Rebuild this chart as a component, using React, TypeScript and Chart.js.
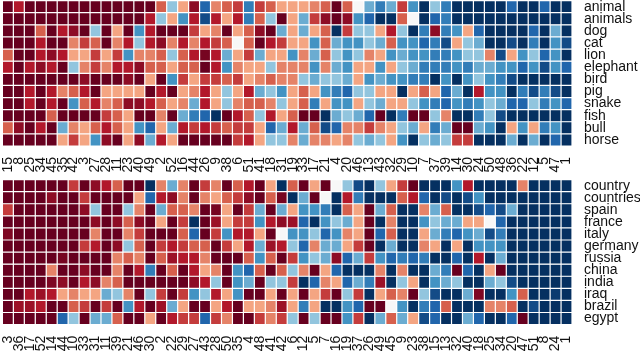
import React, { useEffect, useRef } from "react";
import { Chart, registerables } from "chart.js";

Chart.register(...registerables);

const topColumns = ["15","8","25","34","45","35","42","3","27","28","11","23","40","49","2","52","16","44","26","9","38","6","51","41","18","31","19","33","17","21","4","20","46","13","43","32","29","10","7","37","39","14","30","24","50","48","36","22","12","5","47","1"];
const bottomColumns = ["3","36","17","52","14","44","10","33","31","11","39","21","46","30","2","22","29","27","43","28","50","35","4","48","41","42","6","12","5","7","16","19","37","26","49","45","9","23","38","15","13","32","40","18","25","34","20","47","51","8","24","1"];
const topRowNames = ["animal","animals","dog","cat","lion","elephant","bird","pig","snake","fish","bull","horse"];
const bottomRowNames = ["country","countries","spain","france","italy","germany","russia","china","india","iraq","brazil","egypt"];

// Cell levels on the picture's colour scale: 0 = darkest red, 4 = white, 8 = darkest blue
const animal = [0,1,0,0,0,0,0,0,0,0,0,0,0,0,2,5,3,0.5,7,2.5,2,1.5,6.5,1.5,2,3,3,3,2.5,2,0,2,4,5.5,6.5,5.5,1.5,6,8,5,6.5,8,8,8,8,8,7,8,8,7,8,8];
const animals = [0,0,0,0,0,0,0,0,0,0,0,0,0,1,5,3,6,1,7.5,1,3,1,6.5,2,5,0,3,5.5,1.5,0.5,0,0.5,6,7,8,8,2,4,8,7,6.5,8,8,8,8,8,8,8,8,8,8,8];
const dog = [0,0,0,2,0,1,0.5,0,5,0,3,0,6,1,0,0,0,1.5,3,2.5,0,3,2,0.5,0,5.5,3,5.5,3,2,8,1.5,5,5,3,1,5,8,6.5,0.5,6.5,6,3,7,8,8,8,8,7,8,5.5,8];
const cat = [0,0,0,1,0,0,2.5,1.5,2,0,2.5,1,5,1,0.5,2.5,1,2.5,1,1.5,2,4,2,0,1,1.5,3,3,6,2,5.5,6,6,5,5.5,2,6,6,7,6.5,7.5,3,5,5.5,8,8,7.5,8,6.5,8,6,7.5];
const lion = [2,0,0,1,0.5,1,3,3,1.5,3,1.5,6,2.5,2.5,2,5,2,1,0.2,1,5.5,3,1.5,5.5,3,3,6,2.5,5.5,2,5,6,5,2.5,3,6,5.5,6,6,6.5,6.5,6,5,5,2.5,7.5,3,6,5,7,6,8];
const elephant = [1,0,1,0.5,1,0,5,2.5,1.5,2.5,1,1,0.5,2,2,3,2,2,0,1,6,2.5,3,3,5,2.5,2.5,2.5,6,2.5,5.5,6,3,3,6,3,5,5.5,6.5,6.5,6.5,6,6.5,5.5,5.5,6,6,7,6,7.5,6,7];
const bird = [0,0,0,0,0,0,0,0.5,0,0,0,0.5,0,3,0,6,1.5,3,1.5,1.5,2,1.5,3,2.5,2,2.5,2.5,5,5.5,5,5,5.5,3,6,5.5,6,6,6.5,6.5,8,6,8,6,5,6,6.5,7.5,8,8,8,8,8];
const pig = [0,0,1,0,1,2.5,2,1,0,3,3,3,3,0,1,0,3,2.5,1,3,5,3,1,5.5,5,6,3,2,3,6,6.5,7,5,5,3,3,8,3,2,3,7,5.5,8,1,6,6,8,6.5,7.5,6.5,7.5,8];
const snake = [0,0,1,0,1,0,6,2,1,2.5,2,0.5,0.5,1,2,3,2.5,5.5,1,3,5,2.5,2,2,2.5,5,3,2,6.5,3,6,6,3,5,5.5,3,3,5,6,6.5,7,6,6.5,6,5,5.5,7,7,5,6.5,6,7];
const fish = [0,0,0,0,2,0,0,0,0,1.5,2,3,0,0,2.5,0,5.5,6.5,7,8,0,1,2,5,1,3,2,0,0,8,5.5,5,5.5,7,0,8,6.5,0,0,5,2.5,8,8,6.5,5,7.5,8,8,8,8,8,8];
const bull = [2,0.5,0,1,0,5.5,2.5,3,2,1,2,3,6,7,3,5.5,1,1.5,1,1.5,2,1.5,1.5,3,7,5.5,1,5.5,2,7.5,7,2.5,2.5,1.5,2.5,3,5,5.5,3,6.5,5.5,0,0,5.5,6,8,3,6,3,6.5,6,8];
const horse = [0,0,0,0,0,3,1.5,3,6,0.5,0,3,0.5,5.5,1,3,0,0,0,0,0,1.5,1,3,5,5,2.5,5.5,2.5,2.5,3,2.5,5,5.5,5,3,6,8,5,5.5,5,1.5,1.5,8,8,8,5.5,8,5.5,8,7,8];

const country = [0,0,0,0,0,0,1.5,0,0.5,1,2,0,0,8,2.5,5.5,2.5,0,1.5,2.5,0,2,1,0,3,8,2,0,3,0,4,5,7.5,8,5,3,1.5,0,8,8,8,6,1,8,8,8,8,2.5,8,8,8,8];
const countries = [0,0,0,0,0.5,0,0,1.5,0,0,0,0,3,7,1,0.5,2.5,0,2.5,3,2,1.5,0.5,0,2,0.2,8,5.5,0,4,8,1,6.5,8,8,8,2,1,7,8,7.5,8,7.5,6,8,8,8,8,8,8,8,8];
const spain = [1.5,0,0,0,0,0,0,0.5,5,0,0,5,2.5,0,5.5,2,2,2.5,0,0.2,3,0,1.5,5.5,0,5.5,3,6,6,6.5,8,2,3,0,5.5,2,8,8,2.5,5.5,2,8,8,7.5,7,7.5,5.5,8,8,8,8,8];
const france = [0,0,0,0,0,0,0,0,0.5,0,0.5,2,0.5,0,3,0,1.5,8,0,0.7,3,1.5,1.5,6,1,0.5,0.7,7,8,6,5,5.5,3,0,8,2.5,8,8,6,5,5.5,5.5,3,3,4,7,8,8,8,8,8,8];
const italy = [0.3,0,0,0,0,0,0,0,2.5,0,0,2.5,1.5,0,0,0,2,7,0,1.5,6,1,1,3,0,4,6,6,5,7,6,2.5,3,0,7,2,8,8,3,5.5,6.5,7,6,5.5,7.5,6.5,8,8,8,8,8,8];
const germany = [0,0,0,0,0,0,0,1.5,1,0,0.5,5,2,0,1.5,1,1.5,2,2,0,1.5,3,1,5.5,0.7,1,5,7,2.5,5.5,5.5,3,1.5,0,8,5.5,8,8,2.5,3,8,3,8,6,6,6,8,8,8,8,8,8];
const russia = [0,0,0,0,0,0.2,0,0,0,0,2.5,2,2.5,0,2,0.7,1,1,2.5,0,0,0,2,6,2,0,1.5,6,5,5.5,0.5,7,5.5,1.5,6,7,6.5,7,6.5,8,8,7,8,1,8,5.5,8,8,8,8,8,8];
const china = [0,0,0,0,2.5,0,0,0.5,0,0,2.5,0,1,6.5,0,2,0,1,3,2.5,0,6,7,2,0,2,5,2.5,0,3,7,8,8,8,2.5,8,2.5,8,8,5.5,6.5,0,7,8,3,0,8,8,8,8,8,8];
const india = [0,0,0,0,0.3,0.5,0,1,0.5,2.5,2,0,0,0,0,0,0,0.5,1,5,0,6,5.5,0,5,5,1.5,8,7,2.5,3,7,5.5,6.5,0.7,8,5,3,8,6,5.5,5,8,8,5.5,5,7.5,8,8,8,8,8];
const iraq = [0,0,1,0.7,1,3,2.5,3,3,5.5,5,2.5,0,5,1.5,0,1.5,6,5,1,3,6,0,0,3,0,3,0,3,1.5,0,5,1.5,8,3,2,2.5,0,5,7.5,8,8,5.5,0.3,8,8,6,2,8,8,7.8,8];
const brazil = [0,0.7,0.7,1,0,0,2,1.5,0,1.5,0,6,1,0,0.7,5.5,3,0,0,3,1,0,3,3,2.5,0.7,3,6.5,3,8,8,6,7,0,0,4,6,8,6.5,7,2,8,8,8,2.5,2.5,2,8,7.5,8,8,8];
const egypt = [0,0,0,0,0,7,5,0,5.5,5.5,2,0,0,3,0,1,1.5,1.5,7,1.5,2.5,0,0,1.5,2.5,1.5,5,0,5,0,0,6,1.5,8,5.5,2,5.5,3,7.5,7,8,8,5.5,7,8,8,7,0,8,8,8,8];

const topRows = [animal, animals, dog, cat, lion, elephant, bird, pig, snake, fish, bull, horse];
const bottomRows = [country, countries, spain, france, italy, germany, russia, china, india, iraq, brazil, egypt];

const palette = [[103,0,31],[178,24,43],[214,96,77],[244,165,130],[247,247,247],[146,197,222],[67,147,195],[33,102,172],[5,48,97]];

function levelColor(level: number): string {
  const i = Math.min(Math.floor(level), palette.length - 2);
  const t = level - i;
  const c = palette[i].map((v, k) => Math.round(v + (palette[i + 1][k] - v) * t));
  return `rgb(${c[0]},${c[1]},${c[2]})`;
}

const FONT = "'Liberation Sans', Arial, sans-serif";

function noPadding(s: any) {
  s.paddingLeft = 0;
  s.paddingRight = 0;
  s.paddingTop = 0;
  s.paddingBottom = 0;
}

function Heatmap({ top, height, columns, rowNames, rows, plotTop, plotBottom }: {
  top: number; height: number; columns: string[]; rowNames: string[]; rows: number[][]; plotTop: number; plotBottom: number;
}) {
  const ref = useRef<HTMLCanvasElement>(null);
  useEffect(() => {
    const chart = new Chart(ref.current!, {
      type: "bar",
      data: {
        labels: columns,
        datasets: rows.map((row, i) => ({
          label: rowNames[i],
          data: row.map(() => 1),
          backgroundColor: row.map(levelColor),
          borderColor: "#ffffff",
          borderWidth: 0.6,
          borderSkipped: false,
          inflateAmount: 0,
          barPercentage: 1,
          categoryPercentage: 1,
          stack: "cells",
          yAxisID: "y",
        })),
      },
      options: {
        animation: false,
        responsive: false,
        devicePixelRatio: 1,
        layout: { padding: { left: 2.4, right: 0, top: plotTop, bottom: 0 } },
        plugins: { legend: { display: false }, tooltip: { enabled: false }, title: { display: false } },
        scales: {
          x: {
            type: "category",
            stacked: true,
            grid: { display: false, drawTicks: false },
            border: { display: false },
            afterFit: (s: any) => { s.height = height - plotBottom; noPadding(s); },
            ticks: {
              autoSkip: false, minRotation: 90, maxRotation: 90, padding: 11,
              color: "#111111", font: { family: FONT, size: 14 },
            },
          },
          y: {
            type: "linear",
            stacked: true,
            reverse: true,
            min: 0,
            max: rows.length,
            display: false,
          },
          names: {
            type: "category",
            labels: rowNames,
            position: "right",
            offset: true,
            grid: { display: false, drawTicks: false },
            border: { display: false },
            afterFit: (s: any) => { s.width = 68; noPadding(s); },
            ticks: {
              autoSkip: false, padding: 12, minRotation: 0, maxRotation: 0,
              color: "#111111", font: { family: FONT, size: 14 },
            },
          },
        },
      } as any,
    });
    return () => chart.destroy();
  }, []);
  return (
    <canvas
      ref={ref}
      width={640}
      height={height}
      style={{ position: "absolute", left: 0, top, width: 640, height, display: "block" }}
    />
  );
}

export default function App() {
  return (
    <div style={{ position: "fixed", left: 0, top: 0, width: 640, height: 352, background: "#ffffff", overflow: "hidden" }}>
      <Heatmap top={0} height={176} columns={topColumns} rowNames={topRowNames} rows={topRows} plotTop={0.6} plotBottom={146} />
      <Heatmap top={176} height={176} columns={bottomColumns} rowNames={bottomRowNames} rows={bottomRows} plotTop={3.6} plotBottom={148.6} />
    </div>
  );
}
